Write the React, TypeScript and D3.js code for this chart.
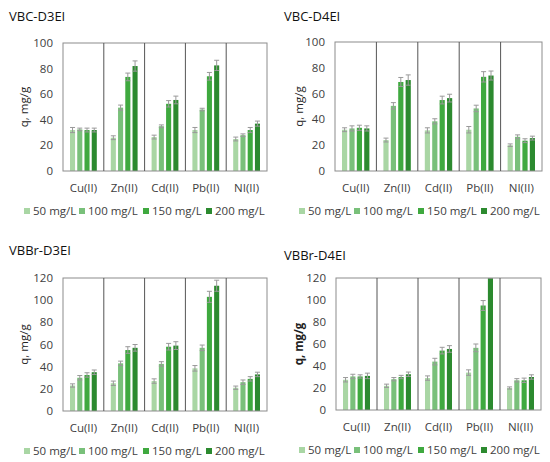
import * as d3 from "d3";
import React from "react";

const metals = ["Cu(II)", "Zn(II)", "Cd(II)", "Pb(II)", "NI(II)"];
const doses = ["50 mg/L", "100 mg/L", "150 mg/L", "200 mg/L"];
const colors = ["#a9d6a4", "#79c07a", "#3fa93f", "#2c8a2f"];

// values per metal, one number per dose
const vbcD3 = [
  [32, 32.5, 32, 32],
  [26, 49.5, 73.5, 82],
  [26.5, 35, 52.5, 55.5],
  [32, 48, 74, 82.5],
  [25, 28, 32, 37],
];
const vbcD3Err = [
  [2, 1, 1.5, 1.5],
  [1.5, 2, 3, 4],
  [1.5, 1, 2.5, 3],
  [2, 1, 3, 4],
  [1.5, 1, 2, 2],
];
const vbcD4 = [
  [32, 33, 33.5, 33],
  [24, 50.5, 69, 70.5],
  [31.5, 38.5, 55, 56.5],
  [32, 48.5, 73, 74],
  [20, 26.5, 23.5, 25.5],
];
const vbcD4Err = [
  [1.5, 2, 2, 2],
  [1.5, 2.5, 3.5, 4],
  [2, 2, 3, 3],
  [2.5, 2.5, 4, 3.5],
  [1, 1.5, 1.5, 1.5],
];
const vbbrD3 = [
  [23, 30, 32.5, 35],
  [25, 43, 55, 57],
  [27, 42.5, 58, 59],
  [38.5, 57, 103, 113],
  [21, 26, 29, 33],
];
const vbbrD3Err = [
  [1.5, 2, 2, 2],
  [2, 2, 3, 3],
  [2, 2, 3, 3.5],
  [2.5, 2.5, 5, 5],
  [1.5, 2, 2, 2],
];
const vbbrD4 = [
  [27.5, 30.5, 30.5, 31],
  [22, 28, 30, 32.5],
  [29, 44, 54, 55.5],
  [34, 56.5, 95, 124],
  [20, 27, 27, 30],
];
const vbbrD4Err = [
  [2, 2, 1.5, 2.5],
  [1.5, 1.5, 1.5, 2],
  [2, 3, 3, 3],
  [2.5, 3.5, 4.5, 4],
  [1, 1.5, 2, 2],
];
const ticks100 = [0, 20, 40, 60, 80, 100];
const ticks120 = [0, 20, 40, 60, 80, 100, 120];

const font = "'Open Sans', 'Noto Sans', sans-serif";
const legendOffsets = [0, 55, 119, 182];

type PanelProps = {
  id: string;
  title: string;
  values: number[][];
  errors: number[][];
  yMax: number;
  ticks: number[];
  ox: number;
  oy: number;
  left: number;
  right: number;
  top: number;
  bottom: number;
  boldLabel?: boolean;
};

const Panel: React.FC<PanelProps> = (p) => {
  const x = d3.scaleBand().domain(metals).range([p.left, p.right]);
  const y = d3.scaleLinear().domain([0, p.yMax]).range([p.bottom, p.top]);
  const inner = d3
    .scaleBand()
    .domain(doses)
    .range([7, x.bandwidth() - 7])
    .paddingInner(0.3);

  return (
    <g transform={`translate(${p.ox},${p.oy})`} fontFamily={font}>
      <defs>
        <clipPath id={`clip-${p.id}`}>
          <rect x={p.left} y={p.top} width={p.right - p.left} height={p.bottom - p.top} />
        </clipPath>
      </defs>
      <text x={9} y={21} fontSize={13} fontWeight={500} fill="#111">
        {p.title}
      </text>
      <text
        transform={`translate(${28},${(p.top + p.bottom) / 2}) rotate(-90)`}
        textAnchor="middle"
        fontSize={11.5}
        fontWeight={p.boldLabel ? 700 : 400}
        fill="#222"
      >
        q, mg/g
      </text>
      {p.ticks.map((t) => (
        <text
          key={t}
          x={p.left - 10}
          y={y(t) + 4}
          textAnchor="end"
          fontSize={11.5}
          fill="#404040"
        >
          {t}
        </text>
      ))}
      <g clipPath={`url(#clip-${p.id})`}>
        {metals.map((m, i) =>
          doses.map((d, j) => {
            const v = p.values[i][j];
            const e = p.errors[i][j];
            const bx = (x(m) || 0) + (inner(d) || 0);
            const cx = bx + inner.bandwidth() / 2;
            return (
              <g key={m + d}>
                <rect
                  x={bx}
                  y={y(v)}
                  width={inner.bandwidth()}
                  height={p.bottom - y(v)}
                  fill={colors[j]}
                />
                <line x1={cx} x2={cx} y1={y(v - e)} y2={y(v + e)} stroke="#999" strokeWidth={1} />
                <line x1={cx - 2.5} x2={cx + 2.5} y1={y(v + e)} y2={y(v + e)} stroke="#999" strokeWidth={1} />
                <line x1={cx - 2.5} x2={cx + 2.5} y1={y(v - e)} y2={y(v - e)} stroke="#999" strokeWidth={1} />
              </g>
            );
          })
        )}
      </g>
      <rect
        x={p.left}
        y={p.top}
        width={p.right - p.left}
        height={p.bottom - p.top}
        fill="none"
        stroke="#8c8c8c"
        strokeWidth={1}
      />
      {metals.slice(1).map((m) => (
        <line
          key={m}
          x1={x(m)}
          x2={x(m)}
          y1={p.top}
          y2={p.bottom}
          stroke="#555"
          strokeWidth={1}
        />
      ))}
      {metals.map((m) => (
        <text
          key={m}
          x={(x(m) || 0) + x.bandwidth() / 2}
          y={p.bottom + 21}
          textAnchor="middle"
          fontSize={11.5}
          fill="#404040"
        >
          {m}
        </text>
      ))}
      {doses.map((d, j) => (
        <g key={d} transform={`translate(${24 + legendOffsets[j]},${p.bottom + 40})`}>
          <rect x={0} y={-3} width={6} height={6} fill={colors[j]} />
          <text x={9} y={4} fontSize={11.5} fill="#404040">
            {d}
          </text>
        </g>
      ))}
    </g>
  );
};

export default function App() {
  return (
    <svg
      width={550}
      height={462}
      style={{ display: "block", position: "absolute", left: 0, top: 0 }}
    >
      <rect width={550} height={462} fill="#fff" />
      <Panel id="a" title="VBC-D3EI" values={vbcD3} errors={vbcD3Err} yMax={100} ticks={ticks100}
        ox={0} oy={0} left={63} right={267} top={43} bottom={171} />
      <Panel id="b" title="VBC-D4EI" values={vbcD4} errors={vbcD4Err} yMax={100} ticks={ticks100}
        ox={275} oy={0} left={60} right={267} top={42} bottom={171} />
      <Panel id="c" title="VBBr-D3EI" values={vbbrD3} errors={vbbrD3Err} yMax={120} ticks={ticks120}
        ox={0} oy={234} left={63} right={267} top={44} bottom={177} />
      <Panel id="d" title="VBBr-D4EI" values={vbbrD4} errors={vbbrD4Err} yMax={120} ticks={ticks120}
        ox={275} oy={239} left={61} right={266} top={39} bottom={171} boldLabel />
    </svg>
  );
}
